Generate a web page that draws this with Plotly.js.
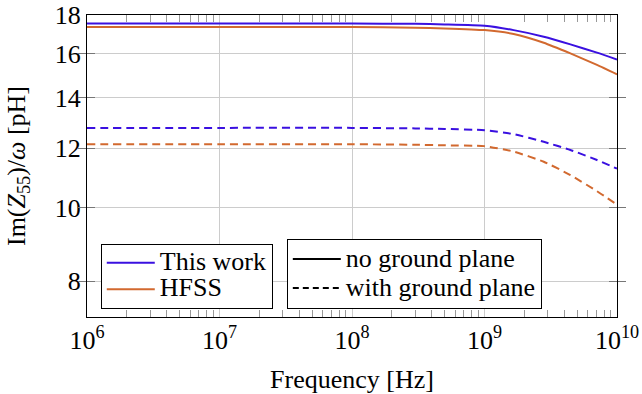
<!DOCTYPE html>
<html>
<head>
<meta charset="utf-8">
<script src="https://cdn.plot.ly/plotly-3.0.1.min.js"></script>
<style>html,body{margin:0;padding:0;background:#fff;}#chart{width:642px;height:394px;}</style>
</head>
<body>
<div id="chart"></div>
<script>
// Frequency points [Hz]
const freq = [1e6, 1e7, 1e8, 3e8, 5e8, 1e9, 1.66e9, 2.8e9, 4.45e9, 7.06e9, 1e10];
// Im(Z55)/omega [pH]
const thisWorkNoGround   = [17.54, 17.54, 17.54, 17.52, 17.49, 17.42, 17.19, 16.85, 16.46, 16.05, 15.72];
const hfssNoGround       = [17.35, 17.35, 17.35, 17.32, 17.28, 17.19, 16.99, 16.54, 16.01, 15.46, 15.02];
const thisWorkWithGround = [12.76, 12.76, 12.76, 12.74, 12.72, 12.67, 12.52, 12.23, 11.93, 11.57, 11.27];
const hfssWithGround     = [12.14, 12.14, 12.14, 12.12, 12.10, 12.07, 11.87, 11.51, 11.05, 10.52, 10.10];

const xTickVals = [1e6, 1e7, 1e8, 1e9, 1e10];
const xTickText = ['10<sup>6</sup>', '10<sup>7</sup>', '10<sup>8</sup>', '10<sup>9</sup>', '10<sup>10</sup>'];
const yTickVals = [8, 10, 12, 14, 16, 18];
const yTickText = ['8', '10', '12', '14', '16', '18'];

const seriesNames = ['This work', 'HFSS'];
const styleNames = ['no ground plane', 'with ground plane'];

const blue = '#3a10e0';
const orange = '#d2692f';
const FONT = 'Liberation Serif';
const big = s => '<span style="font-size:26px">' + s + '</span>';

// minor tick positions 2..9 x each decade
const minorVals = [];
for (let i = 0; i < xTickVals.length - 1; i++) {
  for (let m = 2; m <= 9; m++) minorVals.push(m * xTickVals[i]);
}

const traces = [
  {x: freq, y: thisWorkNoGround, mode: 'lines', name: big(seriesNames[0]), legend: 'legend',
   line: {color: blue, width: 2, shape: 'spline', smoothing: 0.5}},
  {x: freq, y: hfssNoGround, mode: 'lines', name: big(seriesNames[1]), legend: 'legend',
   line: {color: orange, width: 2, shape: 'spline', smoothing: 0.5}},
  {x: freq, y: thisWorkWithGround, mode: 'lines', showlegend: false,
   line: {color: blue, width: 2, dash: '8px,5px', shape: 'spline', smoothing: 0.5}},
  {x: freq, y: hfssWithGround, mode: 'lines', showlegend: false,
   line: {color: orange, width: 2, dash: '8px,5px', shape: 'spline', smoothing: 0.5}},
  {x: [null], y: [null], mode: 'lines', name: big(styleNames[0]), legend: 'legend2',
   line: {color: 'black', width: 2}},
  {x: [null], y: [null], mode: 'lines', name: big(styleNames[1]), legend: 'legend2',
   line: {color: 'black', width: 2, dash: '6px,4px'}},
  // carrier for the top (mirrored) minor-tick axis
  {x: [null], y: [null], xaxis: 'x2', yaxis: 'y', mode: 'lines', showlegend: false, hoverinfo: 'skip'}
];

const legendCommon = {
  xanchor: 'left', yanchor: 'bottom',
  bordercolor: 'black', borderwidth: 1, bgcolor: 'white',
  tracegroupgap: 0, itemwidth: 48
};

const layout = {
  width: 642, height: 394,
  margin: {l: 87, r: 25, t: 15, b: 77, pad: 0},
  paper_bgcolor: 'white', plot_bgcolor: 'white',
  font: {family: FONT, size: 26, color: 'black'},
  xaxis: {
    type: 'log', range: [6, 10],
    tickmode: 'array', tickvals: xTickVals, ticktext: xTickText,
    ticks: 'inside', ticklen: 0, tickcolor: '#999',
    showgrid: true, gridcolor: '#cccccc', gridwidth: 1,
    showline: true, linecolor: 'black', linewidth: 1, mirror: true,
    zeroline: false,
    tickfont: {family: FONT, size: 26, color: 'black'},
    minor: {tickmode: 'array', tickvals: minorVals, ticks: 'inside', ticklen: 7, tickcolor: '#999', showgrid: false},
    title: {text: 'Frequency [Hz]', font: {family: FONT, size: 26, color: 'black'}}
  },
  xaxis2: {
    type: 'log', range: [6, 10], overlaying: 'x', side: 'top', anchor: 'y',
    tickmode: 'array', tickvals: xTickVals, ticks: '', showticklabels: false,
    showgrid: false, zeroline: false, showline: false,
    minor: {tickmode: 'array', tickvals: minorVals, ticks: 'inside', ticklen: 7, tickcolor: '#999', showgrid: false}
  },
  yaxis: {
    type: 'log', range: [Math.log10(7.17), Math.log10(18)],
    tickmode: 'array', tickvals: yTickVals, ticktext: yTickText,
    ticks: 'inside', ticklen: 8, tickcolor: '#777',
    showgrid: true, gridcolor: '#cccccc', gridwidth: 1,
    showline: true, linecolor: 'black', linewidth: 1, mirror: 'allticks',
    zeroline: false,
    tickfont: {family: FONT, size: 26, color: 'black'},
    title: {text: 'Im(<i>Z</i><sub>55</sub>)/<i>ω</i> [pH]', font: {family: FONT, size: 26, color: 'black'}}
  },
  legend: Object.assign({x: 0.026, y: 0.028, font: {family: FONT, size: 18, color: 'black'}}, legendCommon),
  legend2: Object.assign({x: 0.377, y: 0.028, font: {family: FONT, size: 20, color: 'black'}}, legendCommon),
  showlegend: true
};

Plotly.newPlot('chart', traces, layout, {staticPlot: true, displayModeBar: false});
</script>
</body>
</html>
